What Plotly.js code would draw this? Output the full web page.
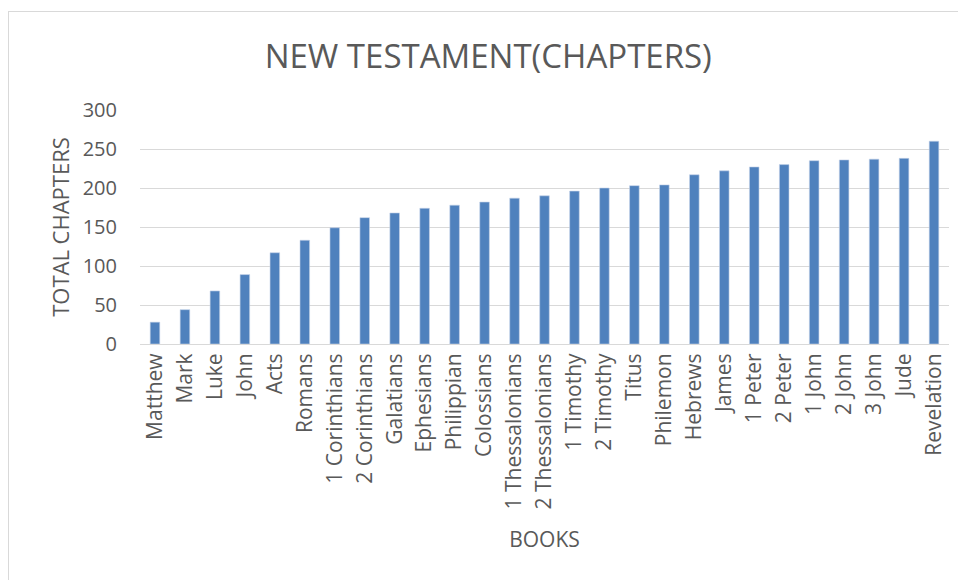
<!DOCTYPE html>
<html>
<head>
<meta charset="utf-8">
<script src="https://cdn.plot.ly/plotly-3.0.1.min.js"></script>
<style>
html,body{margin:0;padding:0;background:#fff;}
#wrap{position:absolute;left:8px;top:11px;width:950px;height:569px;border-left:1px solid #d9d9d9;border-top:1px solid #d9d9d9;box-sizing:border-box;}
#chart{width:949px;height:568px;}
</style>
</head>
<body>
<div id="wrap"><div id="chart"></div></div>
<script>
const books = ["Matthew","Mark","Luke","John","Acts","Romans","1 Corinthians","2 Corinthians","Galatians","Ephesians","Philippian","Colossians","1 Thessalonians","2 Thessalonians","1 Timothy","2 Timothy","Titus","Philemon","Hebrews","James","1 Peter","2 Peter","1 John","2 John","3 John","Jude","Revelation"];
const totalChapters = [28,44,68,89,117,133,149,162,168,174,178,182,187,190,196,200,203,204,217,222,227,230,235,236,237,238,260];
const chartTitle = "NEW TESTAMENT(CHAPTERS)";
const xTitle = "BOOKS";
const yTitle = "TOTAL CHAPTERS";

const grey = "#595959";
const font = "Open Sans, Noto Sans, sans-serif";

Plotly.newPlot("chart", [{
  type: "bar",
  x: books,
  y: totalChapters,
  marker: {color: "#4f81bd", line: {color: "#c6d4ea", width: 0.6}},
  hoverinfo: "x+y"
}], {
  width: 949, height: 568,
  margin: {l: 131, r: 9, t: 98, b: 236},
  paper_bgcolor: "#fff",
  plot_bgcolor: "#fff",
  bargap: 0.68,
  showlegend: false,
  title: {text: chartTitle, font: {family: font, size: 33, color: grey}, x: 0.505, xanchor: "center", y: 0.922, yanchor: "middle"},
  xaxis: {
    type: "category",
    tickangle: -90,
    tickfont: {family: font, size: 21, color: grey},
    showgrid: false,
    showline: true, linecolor: "#d9d9d9", linewidth: 1,
    ticks: "",
    automargin: false,
    title: {text: xTitle, font: {family: font, size: 21, color: grey}, standoff: 23}
  },
  yaxis: {
    range: [0, 300],
    dtick: 50,
    tick0: 0,
    tickfont: {family: font, size: 20, color: grey},
    gridcolor: "#d9d9d9", gridwidth: 1,
    zeroline: false,
    showline: false,
    ticks: "outside", ticklen: 18, tickcolor: "rgba(0,0,0,0)",
    automargin: false,
    title: {text: yTitle, font: {family: font, size: 22, color: grey}, standoff: 6}
  }
}, {displayModeBar: false});
</script>
</body>
</html>
